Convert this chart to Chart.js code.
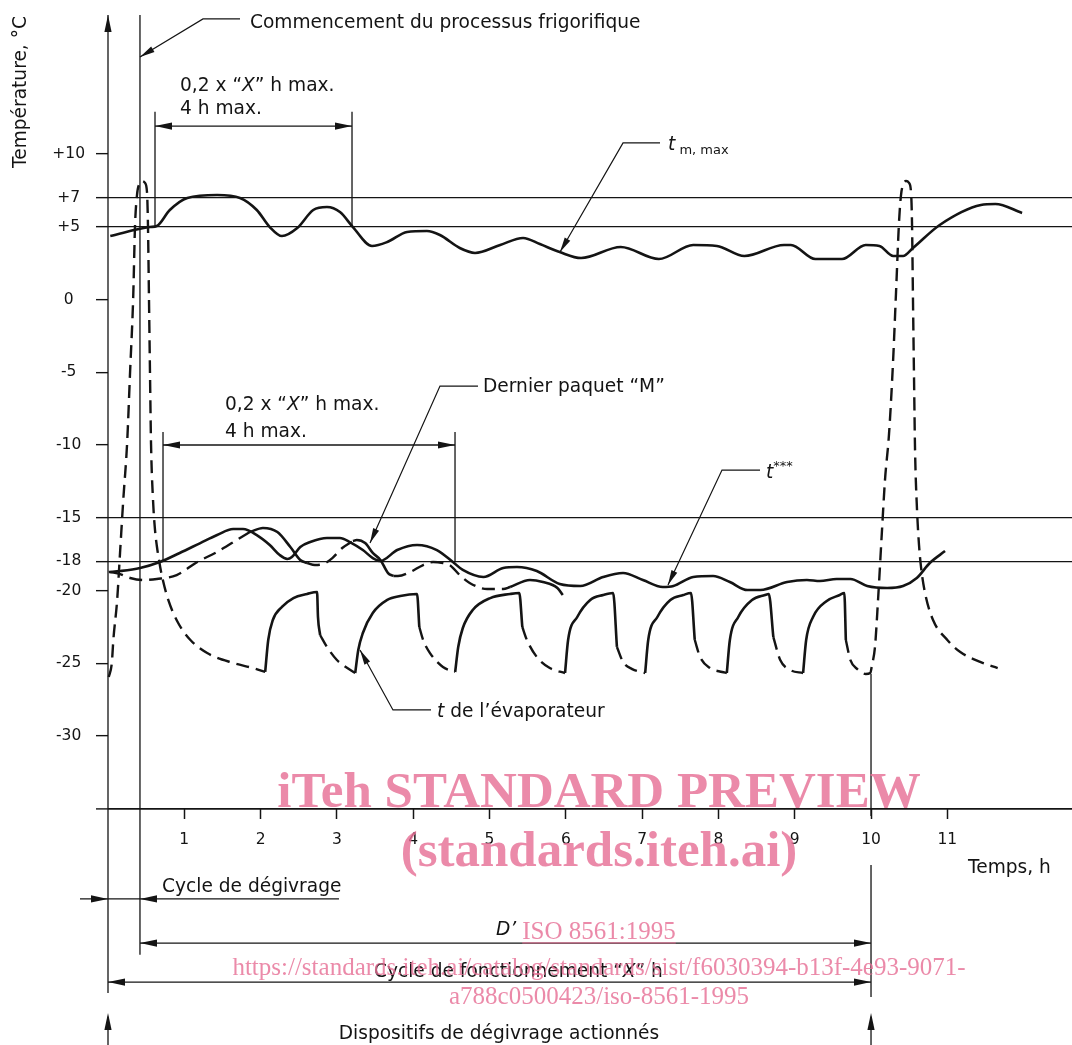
<!DOCTYPE html>
<html lang="fr">
<head>
<meta charset="utf-8">
<title>Cycle de dégivrage – températures</title>
<script src="https://cdn.jsdelivr.net/npm/chart.js@4.4.1/dist/chart.umd.min.js"></script>
<style>
  html, body { margin: 0; padding: 0; background: #fff; }
  #cadre { position: relative; width: 1072px; height: 1045px; }
</style>
</head>
<body>
<div id="cadre"><canvas id="graphique"></canvas></div>
<script>
// Graduations des axes
const heures = [1, 2, 3, 4, 5, 6, 7, 8, 9, 10, 11];
const graduationsTemp = [10, 7, 5, 0, -5, -10, -15, -18, -20, -25, -30];
const etiquettesTemp = ['+10', '+7', '+5', '0', '-5', '-10', '-15', '-18', '-20', '-25', '-30'];
const lignesLimites = [7, 5, -15, -18];
const axeTemps = -35;

// t m,max  [heure, °C]
const tmMax = [
  [0.03, 4.36], [0.55, 4.98], [0.64, 5.05], [0.81, 6.15], [1.04, 6.98], [1.43, 7.18], [1.73, 6.98],
  [1.95, 6.15], [2.12, 4.98], [2.28, 4.36], [2.48, 4.91], [2.69, 6.15], [2.87, 6.36], [3.04, 6.01],
  [3.21, 4.98], [3.46, 3.68], [3.66, 3.95], [3.92, 4.64], [4.18, 4.71], [4.35, 4.43], [4.61, 3.54],
  [4.81, 3.20], [5.14, 3.75], [5.44, 4.23], [5.66, 3.81], [5.92, 3.26], [6.20, 2.85], [6.72, 3.61],
  [7.22, 2.78], [7.67, 3.75], [7.98, 3.68], [8.34, 2.99], [8.86, 3.75], [8.95, 3.75], [9.27, 2.78],
  [9.62, 2.78], [9.93, 3.75], [10.11, 3.68], [10.29, 2.99], [10.42, 2.99], [10.55, 3.54], [10.90, 5.12],
  [11.44, 6.49], [11.63, 6.56], [11.98, 5.95]
];

// t de l'évaporateur : premier dégivrage (tirets)
const evapDegivrage1 = [
  [0.01, -25.95], [0.05, -24.98], [0.07, -23.40], [0.12, -20.65], [0.16, -17.22], [0.20, -13.78],
  [0.25, -9.93], [0.29, -4.91], [0.33, 0.10], [0.354, 5.05], [0.38, 7.18], [0.41, 7.94], [0.45, 8.14],
  [0.485, 8.01], [0.511, 7.39], [0.524, 5.05], [0.537, 0.10], [0.55, -4.91], [0.564, -9.93],
  [0.59, -13.78], [0.616, -15.84], [0.642, -17.01], [0.668, -17.90], [0.71, -19.07], [0.79, -20.65],
  [0.92, -22.23], [1.08, -23.40], [1.30, -24.30], [1.64, -24.98], [1.90, -25.33], [2.06, -25.60]
];
// montées du compresseur (trait plein)
const evapMontees = [
  [[2.06, -25.60], [2.10, -23.40], [2.16, -22.03], [2.28, -21.13], [2.43, -20.52], [2.61, -20.24], [2.74, -20.10], [2.752, -21.82], [2.78, -23.06]],
  [[3.24, -25.67], [3.28, -24.09], [3.34, -22.92], [3.47, -21.55], [3.66, -20.65], [3.83, -20.38], [4.05, -20.24], [4.08, -22.51]],
  [[4.55, -25.60], [4.59, -23.88], [4.65, -22.58], [4.78, -21.34], [5.01, -20.52], [5.27, -20.24], [5.39, -20.17], [5.43, -22.51]],
  [[5.99, -25.67], [6.03, -23.40], [6.15, -21.82], [6.32, -20.65], [6.49, -20.31], [6.62, -20.17], [6.67, -23.88]],
  [[7.04, -25.67], [7.08, -23.40], [7.20, -21.82], [7.37, -20.65], [7.54, -20.31], [7.64, -20.17], [7.69, -23.40]],
  [[8.11, -25.67], [8.15, -23.40], [8.26, -21.82], [8.44, -20.65], [8.61, -20.31], [8.66, -20.24], [8.72, -23.20]],
  [[9.11, -25.67], [9.15, -23.40], [9.24, -21.82], [9.42, -20.72], [9.59, -20.31], [9.65, -20.17], [9.67, -23.40]]
];
// descentes (tirets)
const evapDescentes = [
  [[2.78, -23.06], [2.87, -23.88], [3.00, -24.78], [3.08, -25.12], [3.24, -25.67]],
  [[4.08, -22.51], [4.13, -23.40], [4.22, -24.30], [4.39, -25.26], [4.55, -25.60]],
  [[5.43, -22.51], [5.49, -23.40], [5.62, -24.57], [5.79, -25.33], [5.99, -25.67]],
  [[6.67, -23.88], [6.75, -24.91], [6.87, -25.40], [7.04, -25.67]],
  [[7.69, -23.40], [7.76, -24.57], [7.89, -25.33], [8.05, -25.60], [8.11, -25.67]],
  [[8.72, -23.20], [8.81, -24.78], [8.94, -25.46], [9.11, -25.67]]
];
// second dégivrage (tirets)
const evapDegivrage2 = [
  [9.67, -23.40], [9.73, -24.78], [9.82, -25.40], [9.93, -25.74], [9.99, -25.67], [10.013, -25.12],
  [10.052, -23.88], [10.092, -20.65], [10.144, -15.84], [10.183, -12.41], [10.236, -9.24], [10.288, -4.36],
  [10.328, 0.52], [10.367, 5.33], [10.393, 7.18], [10.419, 7.87], [10.459, 8.14], [10.498, 8.01],
  [10.524, 7.39], [10.537, 5.33], [10.550, -0.03], [10.564, -5.53], [10.577, -10.34], [10.603, -14.47],
  [10.629, -16.87], [10.655, -18.38], [10.708, -20.17], [10.813, -22.03], [11.00, -23.40],
  [11.17, -24.23], [11.43, -24.91], [11.66, -25.33]
];

// t***
const tEtoiles = [
  [0.01, -18.73], [0.16, -18.66], [0.42, -18.45], [0.68, -18.04], [0.94, -17.42], [1.21, -16.74],
  [1.43, -16.19], [1.64, -15.77], [1.77, -15.77], [1.95, -16.19], [2.12, -16.87], [2.25, -17.56],
  [2.35, -17.83], [2.41, -17.70], [2.52, -17.01], [2.65, -16.67], [2.87, -16.39], [3.04, -16.39],
  [3.17, -16.67], [3.34, -17.22], [3.47, -17.77], [3.57, -17.97], [3.79, -17.22], [4.05, -16.87],
  [4.31, -17.22], [4.52, -18.04], [4.65, -18.59], [4.92, -19.07], [5.18, -18.45], [5.36, -18.38],
  [5.62, -18.66], [5.92, -19.55], [6.19, -19.69], [6.49, -19.07], [6.75, -18.80], [7.01, -19.28],
  [7.27, -19.76], [7.41, -19.69], [7.67, -19.07], [7.93, -19.00], [8.15, -19.42], [8.38, -19.97],
  [8.55, -19.97], [8.90, -19.42], [9.16, -19.28], [9.33, -19.35], [9.55, -19.21], [9.73, -19.21],
  [9.95, -19.69], [10.21, -19.83], [10.42, -19.69], [10.60, -19.14], [10.77, -18.11], [10.97, -17.29]
];

// Dernier paquet "M"
const paquetMPlein = [
  [[1.86, -15.98], [2.03, -15.70], [2.22, -15.98], [2.39, -17.01], [2.52, -17.90], [2.61, -18.11]],
  [[3.21, -16.60], [3.26, -16.53], [3.37, -16.74], [3.47, -17.42], [3.57, -17.90], [3.67, -18.80], [3.74, -19.00]],
  [[5.27, -19.76], [5.53, -19.28], [5.70, -19.42], [5.89, -19.83], [5.96, -20.31]]
];
const paquetMTirets = [
  [[0.03, -18.73], [0.16, -18.87], [0.29, -19.14], [0.46, -19.28], [0.64, -19.21], [0.90, -18.94],
   [1.17, -18.04], [1.43, -17.35], [1.73, -16.39], [1.86, -15.98]],
  [[2.61, -18.11], [2.71, -18.25], [2.82, -18.18], [2.94, -17.77], [3.07, -17.08], [3.21, -16.60]],
  [[3.74, -19.00], [3.80, -19.00], [3.96, -18.73], [4.13, -18.25], [4.26, -18.04], [4.39, -18.11],
   [4.48, -18.25], [4.61, -18.94], [4.74, -19.48], [4.97, -19.90], [5.18, -19.90], [5.27, -19.76]]
];

// Traits de construction (cotes, repères), en heures / °C
const traitsFins = [
  [[0, 19.55], [0, -47.66]],
  [[0.419, 19.55], [0.419, -45.03]],
  [[10, -25.74], [10, -35.5]],
  [[10, -38.87], [10, -47.94]],
  [[0, -51.3], [0, -49.3]],
  [[10, -51.3], [10, -49.3]],
  [[0.616, 12.9], [0.616, 5.05]],
  [[3.198, 12.9], [3.198, 5.05]],
  [[0.616, 11.92], [3.198, 11.92]],
  [[0.721, -9.11], [0.721, -17.97]],
  [[4.548, -9.11], [4.548, -17.97]],
  [[0.721, -10.0], [4.548, -10.0]],
  [[-0.367, -41.2], [3.027, -41.2]],
  [[0.419, -44.23], [10, -44.23]],
  [[0, -46.91], [10, -46.91]]
];
const lignesRappel = [
  [[1.730, 19.28], [1.245, 19.28], [0.419, 16.67]],
  [[7.235, 10.76], [6.750, 10.76], [5.924, 3.26]],
  [[4.849, -5.95], [4.351, -5.95], [3.434, -16.74]],
  [[8.545, -11.72], [8.047, -11.72], [7.339, -19.62]],
  [[4.233, -28.21], [3.735, -28.21], [3.303, -24.09]]
];
const pointesCotes = [
  [[0, 19.55], [0, 10]],
  [[0.616, 11.92], [1.5, 11.92]], [[3.198, 11.92], [2, 11.92]],
  [[0.721, -10], [1.5, -10]], [[4.548, -10], [3.5, -10]],
  [[0, -41.2], [-0.3, -41.2]], [[0.419, -41.2], [1, -41.2]],
  [[0.419, -44.23], [1, -44.23]], [[10, -44.23], [9, -44.23]],
  [[0, -46.91], [1, -46.91]], [[10, -46.91], [9, -46.91]],
  [[0, -49.04], [0, -51]], [[10, -49.04], [10, -51]]
];

// Textes : position (h, °C), morceaux [texte, style]
const textes = [
  { h: 1.861, t: 19.0, m: [['Commencement du processus frigorifique']] },
  { h: 0.944, t: 14.67, m: [['0,2 x “'], ['X', 'i'], ['” h max.']] },
  { h: 0.944, t: 13.09, m: [['4 h max.']] },
  { h: 1.533, t: -7.25, m: [['0,2 x “'], ['X', 'i'], ['” h max.']] },
  { h: 1.533, t: -9.11, m: [['4 h max.']] },
  { h: 4.915, t: -6.01, m: [['Dernier paquet “M”']] },
  { h: 7.339, t: 10.62, m: [['t', 'i'], [' m, max', 'b']] },
  { h: 8.624, t: -11.92, m: [['t', 'i'], ['***', 'h']] },
  { h: 4.312, t: -28.35, m: [['t', 'i'], [' de l’évaporateur']] },
  { h: 11.271, t: -39.07, m: [['Temps, h']] },
  { h: 0.708, t: -40.38, m: [['Cycle de dégivrage']] },
  { h: 5.085, t: -43.33, m: [['D’', 'i']] },
  { h: 3.486, t: -46.22, m: [['Cycle de fonctionnement “'], ['X', 'i'], ['” h']] },
  { h: 5.124, t: -50.52, m: [['Dispositifs de dégivrage actionnés']], centre: true }
];
const titreAxeY = { h: -1.14, t: 14.26, texte: 'Température, °C' };

const filigrane = [
  { h: 6.435, t: -34.88, texte: 'iTeh STANDARD PREVIEW', gras: true },
  { h: 6.435, t: -38.94, texte: '(standards.iteh.ai)', gras: true },
  { h: 6.435, t: -43.95, texte: 'ISO 8561:1995', souligne: true },
  { h: 6.435, t: -46.40, texte: 'https://standards.iteh.ai/catalog/standards/sist/f6030394-b13f-4e93-9071-' },
  { h: 6.435, t: -48.42, texte: 'a788c0500423/iso-8561-1995' }
];

const NOIR = '#141414';
const FAMILLE = "'DejaVu Sans', sans-serif";

const courbe = { borderWidth: 2.6, cubicInterpolationMode: 'monotone' };
const tirets = { borderWidth: 2.4, borderDash: [13, 7], cubicInterpolationMode: 'monotone' };
const fin = { borderWidth: 1.3 };

function trait(points, style) {
  return Object.assign({
    data: points.map(([h, t]) => ({ x: h, y: t })),
    showLine: true, pointRadius: 0, pointHoverRadius: 0, fill: false,
    borderColor: NOIR, clip: false, borderCapStyle: 'butt'
  }, style);
}

const datasets = [
  ...traitsFins.map(s => trait(s, fin)),
  ...lignesRappel.map(s => trait(s, { borderWidth: 1.2 })),
  trait(tmMax, courbe),
  trait(evapDegivrage1, tirets),
  ...evapMontees.map(s => trait(s, courbe)),
  ...evapDescentes.map(s => trait(s, tirets)),
  trait(evapDegivrage2, tirets),
  trait(tEtoiles, courbe),
  ...paquetMPlein.map(s => trait(s, courbe)),
  ...paquetMTirets.map(s => trait(s, tirets))
];

function police(style) {
  if (style === 'i') return "italic 18.6px " + FAMILLE;
  if (style === 'b' || style === 'h') return "13px " + FAMILLE;
  return "18.6px " + FAMILLE;
}

function pointe(ctx, x1, y1, x0, y0, long, demi) {
  const a = Math.atan2(y1 - y0, x1 - x0);
  ctx.save();
  ctx.translate(x1, y1);
  ctx.rotate(a);
  ctx.beginPath();
  ctx.moveTo(0, 0);
  ctx.lineTo(-long, -demi);
  ctx.lineTo(-long, demi);
  ctx.closePath();
  ctx.fill();
  ctx.restore();
}

const habillage = {
  id: 'habillage',
  afterDatasetsDraw(chart) {
    const { ctx, scales: { x, y } } = chart;
    const px = h => x.getPixelForValue(h);
    const py = t => y.getPixelForValue(t);
    ctx.save();
    ctx.fillStyle = NOIR;

    pointesCotes.forEach(([a, b]) => pointe(ctx, px(a[0]), py(a[1]), px(b[0]), py(b[1]), 17, 3.6));
    lignesRappel.forEach(l => {
      const a = l[l.length - 1], b = l[l.length - 2];
      pointe(ctx, px(a[0]), py(a[1]), px(b[0]), py(b[1]), 15, 3.2);
    });

    ctx.textBaseline = 'middle';
    ctx.textAlign = 'left';
    textes.forEach(tx => {
      let largeur = 0;
      tx.m.forEach(([s, st]) => { ctx.font = police(st); largeur += ctx.measureText(s).width; });
      let cx = tx.centre ? px(tx.h) - largeur / 2 : px(tx.h);
      const cy = py(tx.t);
      tx.m.forEach(([s, st]) => {
        ctx.font = police(st);
        const dy = st === 'b' ? 6 : st === 'h' ? -6 : 0;
        ctx.fillText(s, cx, cy + dy);
        cx += ctx.measureText(s).width;
      });
    });

    ctx.save();
    ctx.translate(px(titreAxeY.h), py(titreAxeY.t));
    ctx.rotate(-Math.PI / 2);
    ctx.textAlign = 'center';
    ctx.font = police();
    ctx.fillText(titreAxeY.texte, 0, 0);
    ctx.restore();
    ctx.restore();
  },
  afterDraw(chart) {
    const { ctx, scales: { x, y } } = chart;
    ctx.save();
    ctx.fillStyle = 'rgba(230, 112, 150, 0.82)';
    ctx.strokeStyle = 'rgba(230, 112, 150, 0.82)';
    ctx.textAlign = 'center';
    ctx.textBaseline = 'alphabetic';
    filigrane.forEach(f => {
      ctx.font = f.gras ? "bold 51px 'Liberation Serif', serif" : "25px 'Liberation Serif', serif";
      const cx = x.getPixelForValue(f.h), cy = y.getPixelForValue(f.t);
      ctx.fillText(f.texte, cx, cy);
      if (f.souligne) {
        const w = ctx.measureText(f.texte).width;
        ctx.lineWidth = 1.3;
        ctx.beginPath();
        ctx.moveTo(cx - w / 2, cy + 4);
        ctx.lineTo(cx + w / 2, cy + 4);
        ctx.stroke();
      }
    });
    ctx.restore();
  }
};

new Chart(document.getElementById('graphique'), {
  type: 'scatter',
  data: { datasets },
  options: {
    responsive: true,
    maintainAspectRatio: false,
    animation: false,
    events: [],
    layout: { padding: 0 },
    plugins: { legend: { display: false }, tooltip: { enabled: false }, title: { display: false } },
    scales: {
      x: {
        type: 'linear', min: 0, max: 12.634,
        position: { y: axeTemps },
        afterBuildTicks: s => { s.ticks = heures.map(v => ({ value: v })); },
        afterFit: s => { s.paddingLeft = 0; s.paddingRight = 0; },
        ticks: { font: { family: FAMILLE, size: 15.5 }, color: NOIR, padding: 12, maxRotation: 0, autoSkip: false },
        grid: { drawOnChartArea: false, drawTicks: true, tickLength: 10, tickColor: NOIR, tickWidth: 1.5 },
        border: { display: false }
      },
      y: {
        type: 'linear', min: -51.237, max: 20.584, position: 'left',
        afterBuildTicks: s => { s.ticks = graduationsTemp.concat([axeTemps]).map(v => ({ value: v })); },
        afterFit: s => { s.width = 108; s.paddingTop = 0; s.paddingBottom = 0; },
        ticks: {
          callback: v => { const i = graduationsTemp.indexOf(v); return i < 0 ? '' : etiquettesTemp[i]; },
          font: { family: FAMILLE, size: 15.5 }, color: NOIR, padding: 11, crossAlign: 'center', autoSkip: false
        },
        grid: {
          color: c => (c.tick && (lignesLimites.includes(c.tick.value) || c.tick.value === axeTemps)) ? NOIR : 'rgba(0,0,0,0)',
          lineWidth: c => (c.tick && c.tick.value === axeTemps) ? 1.8 : 1.3,
          drawTicks: true, tickLength: 12, tickColor: NOIR, tickWidth: 1.4
        },
        border: { display: false }
      }
    }
  },
  plugins: [habillage]
});
</script>
</body>
</html>
